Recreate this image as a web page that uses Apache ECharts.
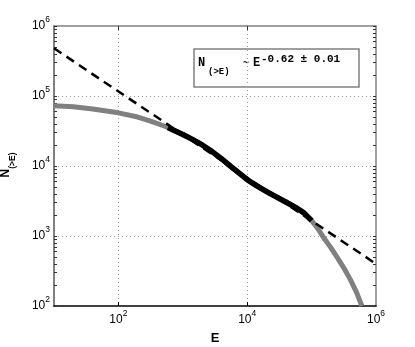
<!DOCTYPE html>
<html><head><meta charset="utf-8">
<script src="https://cdn.jsdelivr.net/npm/echarts@6/dist/echarts.min.js"></script>
<style>html,body{margin:0;padding:0;background:#fff}#c{width:415px;height:347px}</style>
</head><body><div id="c"></div>
<script>
// Cumulative distribution N(>E) (gray curve, full range)
const curveE = [10, 20, 40, 100, 200, 316, 501, 589, 708, 1000, 1410, 2000, 2820, 3980, 5620, 7940, 10000, 14100, 20000, 28200, 39800, 56200, 75900, 100000, 126000, 158000, 200000, 251000, 316000, 398000, 501000, 603000];
const curveN = [72400, 70000, 65300, 57500, 50100, 43700, 37600, 35500, 32700, 28200, 24000, 20000, 16200, 12700, 9770, 7590, 6380, 5190, 4320, 3630, 3060, 2570, 2140, 1660, 1260, 912, 676, 490, 351, 240, 155, 100];
// Fitted range (black portion)
const fitRangeE = [589, 708, 1000, 1410, 2000, 2820, 3980, 5620, 7940, 10000, 14100, 20000, 28200, 39800, 56200, 75900, 100000];
const fitRangeN = [35500, 32700, 28200, 24000, 20000, 16200, 12700, 9770, 7590, 6380, 5190, 4320, 3630, 3060, 2570, 2140, 1660];
// Power-law fit line (dashed)
const fitLineE = [10, 1000000];
const fitLineN = [480000, 400];
// Axis tick values
const xLabelValues = [100, 10000, 1000000];
const xTickValues = [100, 10000];
const xGridValues = [100, 10000];
const yLabelValues = [100, 1000, 10000, 100000, 1000000];
const yGridValues = [1000, 10000, 100000];
const yMinorMultipliers = [1, 2, 3, 4, 5, 6, 7, 8, 9];
const xTitle = 'E';
const yTitleMain = 'N';
const yTitleSub = '(>E)';
const fitSlopeText = '-0.62 \u00b1 0.01';

const yTickValues = [];
for (let d = 100; d < 1000000; d *= 10) yMinorMultipliers.forEach(m => yTickValues.push(m * d));
yTickValues.push(1000000);

const pairs = (xs, ys) => xs.map((x, i) => [x, ys[i]]);
const SANS = '"Liberation Sans", Arial, sans-serif';
const MONO = '"Liberation Mono", "Courier New", monospace';
const powLabel = v => '{b|10}{s|' + Math.round(Math.log10(v)) + '}';
const labelRich = {
  b: {fontSize: 12, fontFamily: SANS, color: '#000'},
  s: {fontSize: 8.5, fontFamily: SANS, color: '#000', padding: [0, 0, 12, 0]}
};
const GRAY = '#808080';
const gridLine = {show: true, lineStyle: {color: '#999', type: [1, 3], width: 1}};

const chart = echarts.init(document.getElementById('c'), null, {renderer: 'canvas'});
chart.setOption({
  backgroundColor: '#fff',
  animation: false,
  grid: {left: 54, top: 26, right: 39, bottom: 41, containLabel: false, outerBoundsMode: 'none'},
  xAxis: [
    {type: 'log', min: 10, max: 1000000, position: 'bottom',
     axisLine: {show: true, lineStyle: {color: '#000', width: 1.5}},
     axisTick: {show: true, inside: true, length: 4, customValues: xTickValues, lineStyle: {color: '#000'}},
     axisLabel: {show: true, margin: 3, customValues: xLabelValues, formatter: powLabel, rich: labelRich},
     splitLine: {show: false},
     name: xTitle, nameLocation: 'middle', nameGap: 26, nameMoveOverlap: false,
     nameTextStyle: {fontSize: 13, fontWeight: 'bold', fontFamily: SANS, color: '#000'}},
    {type: 'log', min: 10, max: 1000000, position: 'top',
     axisLine: {show: true, lineStyle: {color: GRAY, width: 1.5}},
     axisTick: {show: true, inside: true, length: 4, customValues: xTickValues, lineStyle: {color: '#333'}},
     axisLabel: {show: false}, splitLine: {show: false}},
    {type: 'log', min: 10, max: 1000000, position: 'bottom',
     axisLine: {show: false}, axisTick: {show: false, customValues: xGridValues},
     axisLabel: {show: false}, splitLine: gridLine}
  ],
  yAxis: [
    {type: 'log', min: 100, max: 1000000, position: 'left',
     axisLine: {show: true, lineStyle: {color: GRAY, width: 2}},
     axisTick: {show: true, inside: true, length: 3, customValues: yTickValues, lineStyle: {color: '#333'}},
     axisLabel: {show: true, margin: 4, customValues: yLabelValues, formatter: powLabel, rich: labelRich},
     splitLine: {show: false}},
    {type: 'log', min: 100, max: 1000000, position: 'right',
     axisLine: {show: true, lineStyle: {color: GRAY, width: 1.5}},
     axisTick: {show: true, inside: true, length: 3, customValues: yTickValues, lineStyle: {color: '#333'}},
     axisLabel: {show: false}, splitLine: {show: false}},
    {type: 'log', min: 100, max: 1000000, position: 'left',
     axisLine: {show: false}, axisTick: {show: false, customValues: yGridValues},
     axisLabel: {show: false}, splitLine: gridLine}
  ],
  series: [
    {type: 'line', name: 'curve', data: pairs(curveE, curveN), symbol: 'none',
     lineStyle: {color: GRAY, width: 5, join: 'round'}, z: 3},
    {type: 'line', name: 'fit', data: pairs(fitLineE, fitLineN), symbol: 'none',
     lineStyle: {color: '#000', width: 2.5, type: [9, 6]}, z: 4},
    {type: 'line', name: 'fitRange', data: pairs(fitRangeE, fitRangeN), symbol: 'none',
     lineStyle: {color: '#000', width: 5.5, join: 'round'}, z: 5}
  ],
  graphic: [
    {type: 'text', x: 6, y: 165, rotation: Math.PI / 2, z: 100,
     style: {text: '{n|' + yTitleMain + '}{s|' + yTitleSub + '}', align: 'center', verticalAlign: 'middle',
       rich: {
         n: {fontSize: 12, fontWeight: 'bold', fontFamily: SANS, fill: '#000'},
         s: {fontSize: 8.5, fontWeight: 'bold', fontFamily: SANS, fill: '#000', padding: [13, 0, 0, 0]}
       }}},
    {type: 'group', x: 194, y: 49, z: 100,
     children: [
      {type: 'rect', shape: {x: 0, y: 0, width: 165, height: 38},
       style: {fill: '#fff', stroke: GRAY, lineWidth: 1.5}},
      {type: 'text', x: 4, y: 13.5, style: {text: 'N', fontSize: 12, fontWeight: 'bold', fontFamily: MONO, fill: '#000', verticalAlign: 'middle'}},
      {type: 'text', x: 14, y: 23, style: {text: '(>E)', fontSize: 9, fontWeight: 'bold', fontFamily: MONO, fill: '#000', verticalAlign: 'middle'}},
      {type: 'text', x: 49, y: 14.5, style: {text: '~', fontSize: 10, fontWeight: 'bold', fontFamily: MONO, fill: '#000', verticalAlign: 'middle'}},
      {type: 'text', x: 59, y: 13.5, style: {text: 'E', fontSize: 12, fontWeight: 'bold', fontFamily: MONO, fill: '#000', verticalAlign: 'middle'}},
      {type: 'text', x: 67, y: 10.5, style: {text: fitSlopeText, fontSize: 11, fontWeight: 'bold', fontFamily: MONO, fill: '#000', verticalAlign: 'middle'}}
     ]}
  ]
});
</script></body></html>
